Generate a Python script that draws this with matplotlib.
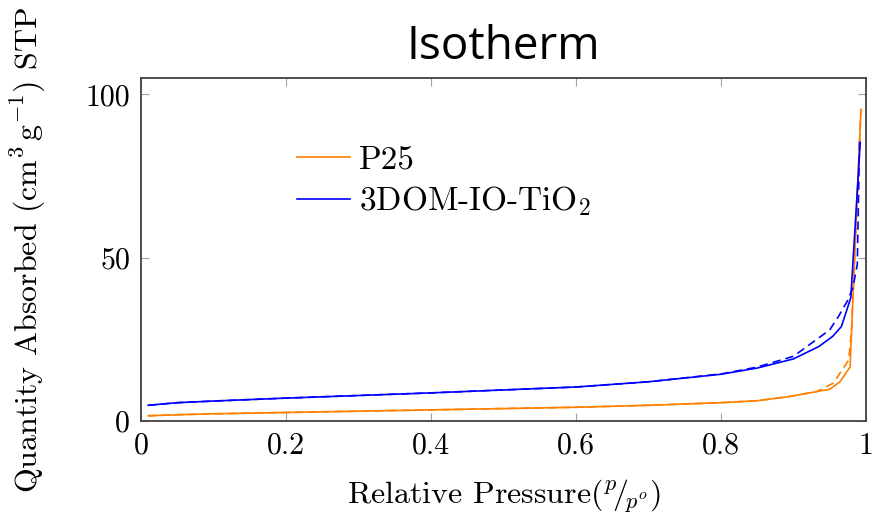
import matplotlib

matplotlib.use("Agg")
import matplotlib.pyplot as plt

# P25 adsorption (solid) and desorption (dashed)
p25_ads_x = [0.01, 0.05, 0.1, 0.2, 0.3, 0.4, 0.5, 0.6, 0.7, 0.8, 0.85, 0.895, 0.932, 0.95, 0.964, 0.978, 0.993]
p25_ads_y = [1.6, 1.9, 2.2, 2.6, 3.0, 3.4, 3.8, 4.2, 4.8, 5.6, 6.2, 7.5, 9.0, 9.7, 12.0, 16.5, 95.4]
p25_des_x = [0.01, 0.05, 0.1, 0.2, 0.3, 0.4, 0.5, 0.6, 0.7, 0.8, 0.85, 0.895, 0.932, 0.955, 0.976, 0.980, 0.993]
p25_des_y = [1.6, 1.9, 2.2, 2.6, 3.0, 3.4, 3.8, 4.2, 4.8, 5.6, 6.2, 7.5, 9.0, 11.6, 18.6, 28.0, 95.4]

# 3DOM-IO-TiO2 adsorption (solid) and desorption (dashed)
io_ads_x = [0.01, 0.05, 0.1, 0.2, 0.3, 0.4, 0.5, 0.6, 0.7, 0.8, 0.85, 0.9, 0.935, 0.954, 0.966, 0.979, 0.992]
io_ads_y = [4.8, 5.6, 6.1, 7.0, 7.8, 8.6, 9.5, 10.4, 12.0, 14.3, 16.2, 19.0, 22.8, 25.9, 28.9, 37.7, 85.3]
io_des_x = [0.01, 0.05, 0.1, 0.2, 0.3, 0.4, 0.5, 0.6, 0.7, 0.8, 0.85, 0.9, 0.95, 0.962, 0.974, 0.982, 0.988, 0.991]
io_des_y = [4.8, 5.6, 6.1, 7.0, 7.8, 8.6, 9.5, 10.4, 12.0, 14.4, 16.5, 19.8, 27.9, 32.0, 36.6, 40.8, 48.0, 85.3]

x_ticks = [0, 0.2, 0.4, 0.6, 0.8, 1]
x_labels = ["0", "0.2", "0.4", "0.6", "0.8", "1"]
y_ticks = [0, 50, 100]
y_labels = ["0", "50", "100"]

ORANGE = "#ff8000"
BLUE = "#0000ff"

plt.rcParams.update({
    "font.family": "serif",
    "font.serif": ["cmr10"],
    "mathtext.fontset": "cm",
    "axes.unicode_minus": False,
})

fig = plt.figure(figsize=(8.73, 5.18), dpi=100)
ax = fig.add_axes([0.1615, 0.1873, 0.8305, 0.6622])

ax.plot(p25_ads_x, p25_ads_y, color=ORANGE, lw=1.2, label="P25")
ax.plot(p25_des_x, p25_des_y, color=ORANGE, lw=1.2, ls=(0, (5, 3)))
ax.plot(io_ads_x, io_ads_y, color=BLUE, lw=1.2, label=r"3DOM-IO-TiO$_2$")
ax.plot(io_des_x, io_des_y, color=BLUE, lw=1.2, ls=(0, (5, 3)))

ax.set_xlim(0, 1)
ax.set_ylim(0, 105)
ax.set_xticks(x_ticks, x_labels)
ax.set_yticks(y_ticks, y_labels)
ax.tick_params(direction="in", length=6, width=0.8, color="#a0a0a0",
               top=True, right=True, labelsize=21.5, pad=8)
for sp in ax.spines.values():
    sp.set_color("#404040")
    sp.set_linewidth(1.3)

ax.set_xlabel(r"Relative Pressure$(^{p}\!/\!_{p^{o}})$", fontsize=23)
ax.xaxis.set_label_coords(0.5, -0.165)
ax.set_ylabel(r"Quantity Absorbed $(\mathrm{cm}^3\,\mathrm{g}^{-1})$ STP", fontsize=23)
ax.yaxis.set_label_coords(-0.128, 0.5)
ax.set_title("Isotherm", family="Open Sans", fontsize=33, pad=14)

ax.legend(loc="upper left", bbox_to_anchor=(0.215, 0.805), frameon=False,
          borderaxespad=0, borderpad=0, fontsize=24, handlelength=1.6,
          handletextpad=0.25, labelspacing=0.3)

fig.savefig("out.png", dpi=100)
